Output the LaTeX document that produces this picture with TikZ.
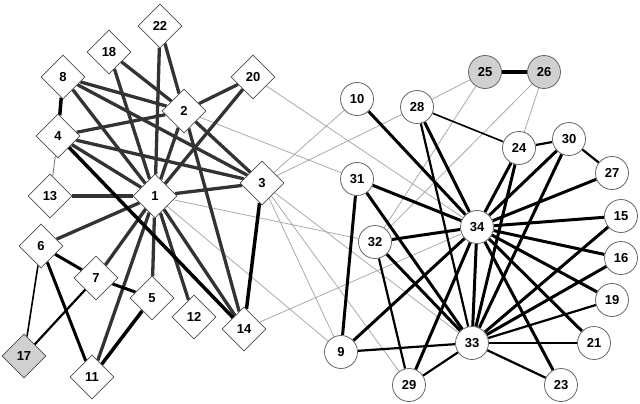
\documentclass[tikz,border=0pt]{standalone}
\usepackage{fontspec}
\setmainfont{Liberation Sans}
\usetikzlibrary{shapes.geometric}
\pgfdeclarelayer{bg}
\pgfsetlayers{bg,main}
\definecolor{ledge}{HTML}{333333}
\definecolor{gedge}{HTML}{AAAAAA}
\definecolor{nfill}{HTML}{D0D0D0}
\begin{document}
\begin{tikzpicture}[x=1pt,y=-1pt,
  lab/.style={font=\bfseries\fontsize{13}{13}\selectfont},
  dnode/.style={lab, diamond, draw=black!70, line width=0.8pt, fill=white, minimum width=44pt, minimum height=44pt, inner sep=0pt},
  cnode/.style={lab, circle, draw=black!60, line width=0.8pt, fill=white, minimum size=33pt, inner sep=0pt},
  gfill/.style={fill=nfill},
  dk/.style={draw=ledge, line width=3.3pt},
  bk/.style={draw=black, line width=3pt},
  bm/.style={draw=black, line width=2.2pt},
  bt/.style={draw=black, line width=1.6pt},
  gr/.style={draw=gedge, line width=0.8pt},
  gt/.style={draw=black!50, line width=0.9pt}
]
\useasboundingbox (0,0) rectangle (640,404);
% left group (diamonds)
\node[dnode] (n22) at (160,26) {22};
\node[dnode] (n18) at (109,52) {18};
\node[dnode] (n8) at (63,77) {8};
\node[dnode] (n20) at (253,77) {20};
\node[dnode] (n2) at (184,111) {2};
\node[dnode] (n4) at (58,136) {4};
\node[dnode] (n13) at (50,196) {13};
\node[dnode] (n1) at (155,196) {1};
\node[dnode] (n3) at (262,183) {3};
\node[dnode] (n6) at (41,246) {6};
\node[dnode] (n7) at (96,278) {7};
\node[dnode] (n5) at (152,298) {5};
\node[dnode] (n12) at (194,317) {12};
\node[dnode] (n14) at (244,329) {14};
\node[dnode, gfill] (n17) at (24,356) {17};
\node[dnode] (n11) at (92,377) {11};
% right group (circles)
\node[cnode, gfill] (n25) at (485,72) {25};
\node[cnode, gfill] (n26) at (544,72) {26};
\node[cnode] (n10) at (357,99) {10};
\node[cnode] (n28) at (417,107) {28};
\node[cnode] (n24) at (519,148) {24};
\node[cnode] (n30) at (569,139) {30};
\node[cnode] (n27) at (612,173) {27};
\node[cnode] (n31) at (357,179) {31};
\node[cnode] (n34) at (477,227) {34};
\node[cnode] (n15) at (621,216) {15};
\node[cnode] (n32) at (375,242) {32};
\node[cnode] (n16) at (621,258) {16};
\node[cnode] (n19) at (612,300) {19};
\node[cnode] (n9) at (341,352) {9};
\node[cnode] (n33) at (472,343) {33};
\node[cnode] (n21) at (594,343) {21};
\node[cnode] (n29) at (409,385) {29};
\node[cnode] (n23) at (561,385) {23};
\begin{pgfonlayer}{bg}
% grey cross edges
\foreach \a/\b in {1/9,1/32,2/31,3/9,3/10,3/28,3/29,3/33,14/34,20/34,25/28,25/32,26/32,26/24}
  \draw[gr] (n\a) -- (n\b);
\draw[gt] (n4) -- (n13);
% left dark edges
\foreach \a/\b in {22/1,22/2,18/1,18/2,8/1,8/2,8/3,20/1,20/2,2/4,2/1,2/3,2/14,4/1,4/3,13/1,1/3,1/5,1/6,1/7,1/11,1/12,1/14}
  \draw[dk] (n\a) -- (n\b);
\foreach \a/\b in {8/4,4/14,3/14,5/11}
  \draw[draw=black, line width=3.5pt] (n\a) -- (n\b);
\foreach \a/\b in {6/7,7/5,6/11}
  \draw[bk] (n\a) -- (n\b);
\draw[bt] (n6) -- (n17);
\draw[bm] (n7) -- (n17);
% right edges
\foreach \a/\b in {10/34,31/34,31/33,31/9,28/34,24/34,24/33,30/34,30/33,27/34,15/34,15/33,16/34,16/33,19/34,21/34,23/34,32/34,32/33,9/34,29/34,33/34}
  \draw[bk] (n\a) -- (n\b);
\foreach \a/\b in {28/33,24/30,30/27,19/33,21/33,23/33,32/29,9/33,29/33}
  \draw[bm] (n\a) -- (n\b);
\draw[bt] (n28) -- (n24);
\draw[draw=black, line width=4pt] (n25) -- (n26);
\end{pgfonlayer}
\end{tikzpicture}
\end{document}
